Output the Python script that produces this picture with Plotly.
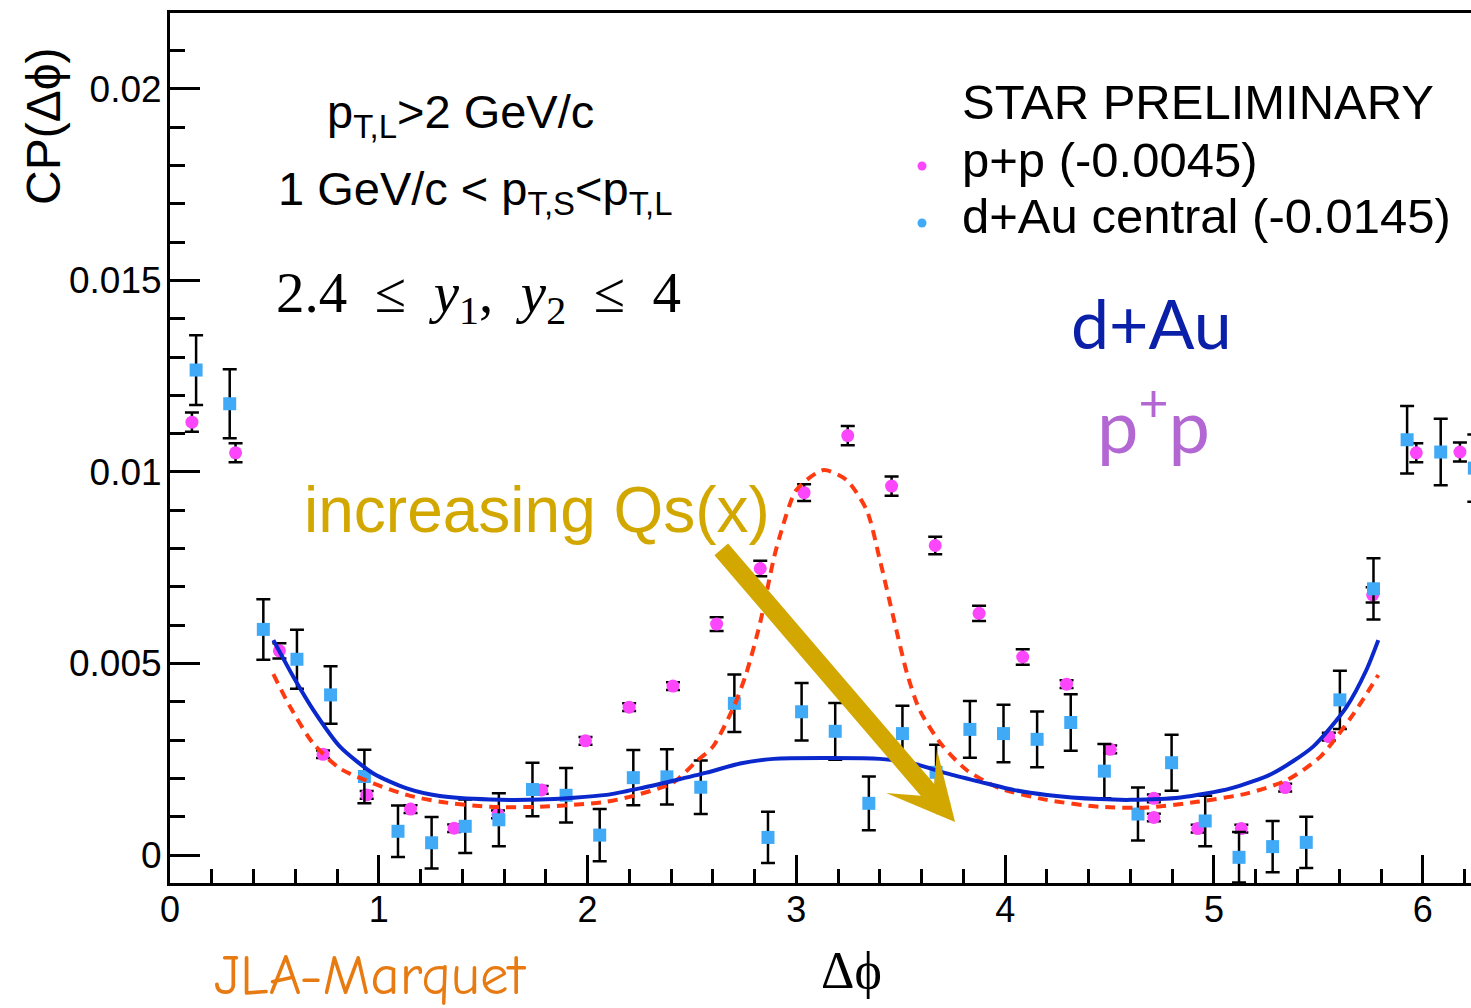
import plotly.graph_objects as go

# ---------------- data ----------------
dau_x = [0.125, 0.286, 0.447, 0.608, 0.769, 0.931, 1.092, 1.253, 1.414, 1.575,
         1.736, 1.897, 2.058, 2.219, 2.380, 2.542, 2.703, 2.864, 3.025, 3.186,
         3.347, 3.508, 3.669, 3.831, 3.992, 4.153, 4.314, 4.475, 4.636, 4.797,
         4.958, 5.120, 5.281, 5.442, 5.603, 5.764, 5.925, 6.086, 6.247]
dau_y = [0.01266, 0.01178, 0.00589, 0.00511, 0.00418, 0.00205, 0.00062, 0.00032, 0.00075, 0.00092,
         0.00171, 0.00156, 0.00052, 0.00202, 0.00204, 0.00177, 0.00396, 0.00046, 0.00374, 0.00323,
         0.00135, 0.00317, 0.00216, 0.00328, 0.00317, 0.00302, 0.00346, 0.00219, 0.00107, 0.00241,
         0.00089, -0.00006, 0.00022, 0.00033, 0.00405, 0.00695, 0.01084, 0.01052, 0.01010]
dau_err = [0.00091, 0.00090, 0.00079, 0.00077, 0.00075, 0.00070, 0.00067, 0.00067, 0.00070, 0.00069,
           0.00070, 0.00071, 0.00068, 0.00072, 0.00072, 0.00070, 0.00075, 0.00067, 0.00075, 0.00074,
           0.00070, 0.00073, 0.00072, 0.00074, 0.00075, 0.00073, 0.00074, 0.00071, 0.00069, 0.00073,
           0.00066, 0.00066, 0.00067, 0.00067, 0.00076, 0.00080, 0.00088, 0.00087, 0.00088]

pp_x = [0.105, 0.314, 0.524, 0.733, 0.942, 1.152, 1.361, 1.571, 1.780, 1.990,
        2.199, 2.409, 2.618, 2.827, 3.037, 3.246, 3.456, 3.665, 3.875, 4.084,
        4.294, 4.503, 4.712, 4.712, 4.922, 5.131, 5.341, 5.550, 5.760, 5.969, 6.178]
pp_y = [0.01130, 0.01050, 0.00533, 0.00263, 0.00157, 0.00120, 0.00070, 0.00106, 0.00170, 0.00298,
        0.00386, 0.00441, 0.00603, 0.00748, 0.00946, 0.01095, 0.00963, 0.00808, 0.00631, 0.00517,
        0.00446, 0.00276, 0.00148, 0.00098, 0.00069, 0.00069, 0.00176, 0.00309, 0.00679, 0.01050, 0.01052]
pp_err = [0.00025, 0.00025, 0.00020, 0.00010, 0.00010, 0.00010, 0.00010, 0.00010, 0.00010, 0.00010,
          0.00010, 0.00010, 0.00018, 0.00020, 0.00022, 0.00025, 0.00025, 0.00023, 0.00020, 0.00020,
          0.00010, 0.00010, 0.00010, 0.00010, 0.00010, 0.00010, 0.00010, 0.00010, 0.00020, 0.00025, 0.00025]

# theory curves (JLA-Marquet)
dau_curve_x = [0.495, 0.59, 0.686, 0.814, 0.974, 1.134, 1.293, 1.533, 1.772, 2.09, 2.25, 2.41,
               2.57, 2.73, 2.89, 3.14, 3.40, 3.56, 3.72, 3.88, 4.04, 4.20, 4.45, 4.60, 4.84,
               5.08, 5.28, 5.475, 5.635, 5.73, 5.787]
dau_curve_y = [0.00561, 0.00466, 0.00379, 0.00283, 0.00213, 0.00174, 0.00154, 0.00145, 0.00145,
               0.00157, 0.00174, 0.00194, 0.00215, 0.00239, 0.00251, 0.00253, 0.00251, 0.00239,
               0.00213, 0.00191, 0.00170, 0.00157, 0.00146, 0.00144, 0.00150, 0.00174, 0.00213,
               0.00283, 0.00387, 0.00483, 0.00561]
pp_curve_x = [0.495, 0.575, 0.686, 0.814, 0.974, 1.134, 1.293, 1.533, 1.772, 2.09, 2.25, 2.41,
              2.52, 2.60, 2.70, 2.76, 2.826, 2.89, 2.92, 3.0, 3.13, 3.24, 3.337, 3.40, 3.464,
              3.53, 3.59, 3.69, 3.815, 3.975, 4.20, 4.45, 4.68, 4.92, 5.16, 5.35, 5.51, 5.67, 5.787]
pp_curve_y = [0.00472, 0.00387, 0.00291, 0.00226, 0.00187, 0.00157, 0.00139, 0.00126, 0.00126,
              0.00139, 0.00159, 0.00189, 0.00244, 0.00283, 0.00387, 0.00474, 0.00605, 0.00770,
              0.00831, 0.00953, 0.01005, 0.00979, 0.00900, 0.00770, 0.00622, 0.00474, 0.00379,
              0.00292, 0.00222, 0.00174, 0.00144, 0.00126, 0.00124, 0.00139, 0.00161, 0.00196,
              0.00257, 0.00370, 0.00470]

x_ticks = [0, 1, 2, 3, 4, 5, 6]
y_ticks = [0, 0.005, 0.01, 0.015, 0.02]
y_tick_text = ["0", "0.005", "0.01", "0.015", "0.02"]

# ---------------- style ----------------
C_PP = "#fb46fb"
C_DAU = "#40aaf7"
C_DAU_LINE = "#0a28cc"
C_PP_LINE = "#ff3a10"
FONT = "Liberation Sans, Arial, Helvetica, sans-serif"
SERIF = "Liberation Serif, Times New Roman, serif"
W, H = 1471, 1008
L, R, T, B = 170, 0, 13, 125


def px2paper(px, py):
    return (px - L) / (W - L - R), (H - B - py) / (H - T - B)


fig = go.Figure()

fig.add_trace(go.Scatter(
    x=pp_x, y=pp_y, mode="markers",
    marker=dict(symbol="circle", size=13, color=C_PP, line=dict(width=0)),
    error_y=dict(type="data", array=pp_err, color="black", thickness=2.5, width=7),
    showlegend=False))

fig.add_trace(go.Scatter(
    x=dau_x, y=dau_y, mode="markers",
    marker=dict(symbol="square", size=13, color=C_DAU, line=dict(width=0)),
    error_y=dict(type="data", array=dau_err, color="black", thickness=2.5, width=7),
    showlegend=False))

fig.add_trace(go.Scatter(
    x=pp_curve_x, y=pp_curve_y, mode="lines",
    line=dict(color=C_PP_LINE, width=4, dash="10px,7px", shape="spline", smoothing=0.7),
    showlegend=False))

fig.add_trace(go.Scatter(
    x=dau_curve_x, y=dau_curve_y, mode="lines",
    line=dict(color=C_DAU_LINE, width=4, shape="spline", smoothing=0.7),
    showlegend=False))

annotations = []


def add_text(text, px, py, size, color="black", family=FONT, xanchor="left", yanchor="middle", angle=0):
    xp, yp = px2paper(px, py)
    annotations.append(dict(text=text, x=xp, y=yp, xref="paper", yref="paper",
                            xanchor=xanchor, yanchor=yanchor, showarrow=False,
                            textangle=angle,
                            font=dict(size=size, color=color, family=family)))


add_text("p<sub>T,L</sub>&gt;2 GeV/c", 325, 115, 47)
add_text("1 GeV/c &lt; p<sub>T,S</sub>&lt;p<sub>T,L</sub>", 276, 192, 47)
add_text("2.4&#8201;&#8201;&#8202;≤&#8201;&#8201;&#8202;<i>y</i><sub>1</sub>,&#8201;&#8201;&#8202;"
         "<i>y</i><sub>2</sub>&#8201;&#8201;&#8202;≤&#8201;&#8201;&#8202;4",
         274, 297, 57, family=SERIF)

add_text("STAR PRELIMINARY", 960, 102, 49)
add_text("p+p (-0.0045)", 960, 160, 49)
add_text("d+Au central (-0.0145)", 960, 216, 49)

add_text("d+Au", 1151, 322, 68, color="#0b20a8", family="Lato, Noto Sans, sans-serif", xanchor="center")
add_text("p<sup>+</sup>p", 1153, 420, 74, color="#b267d2", family="Lato, Noto Sans, sans-serif", xanchor="center")

add_text("increasing Qs(x)", 302, 510, 64, color="#d2a800")
add_text("JLA-Marquet", 212, 1010, 57, color="#e87a12",
         family="Comic Sans MS, Comic Neue, DejaVu Sans, sans-serif", yanchor="bottom")

add_text("CP(Δϕ)", 44, 126, 48, xanchor="center", angle=-90)
add_text("Δϕ", 851, 970, 52, family=SERIF, xanchor="center")

# arrow
annotations.append(dict(
    x=3.760, y=0.00086, ax=2.634, ay=0.00802, xref="x", yref="y", axref="x", ayref="y",
    text="", showarrow=True, arrowhead=3, arrowwidth=18, arrowsize=0.62, arrowcolor="#d2a800",
    standoff=0))

shapes = []
for py, col in [(166, C_PP), (223, C_DAU)]:
    xp, yp = px2paper(922, py)
    shapes.append(dict(type="circle", xref="paper", yref="paper", xsizemode="pixel", ysizemode="pixel",
                       xanchor=xp, yanchor=yp, x0=-4.5, x1=4.5, y0=-4.5, y1=4.5,
                       fillcolor=col, line=dict(width=0)))

fig.update_layout(
    width=W, height=H,
    margin=dict(l=L, r=R, t=T, b=B, pad=0),
    plot_bgcolor="white", paper_bgcolor="white",
    showlegend=False,
    annotations=annotations,
    shapes=shapes,
    xaxis=dict(range=[0, 6.231], showline=True, linewidth=3, linecolor="black", mirror=True,
               ticks="inside", ticklen=28, tickwidth=3, tickcolor="black",
               tickvals=x_ticks, ticktext=[str(v) for v in x_ticks],
               tickfont=dict(size=36, family=FONT, color="black"),
               minor=dict(ticks="inside", ticklen=14, tickwidth=3, dtick=0.2, tick0=0,
                          tickcolor="black", showgrid=False),
               showgrid=False, zeroline=False, ticklabelstandoff=-7),
    yaxis=dict(range=[-0.00073, 0.02198], showline=True, linewidth=3, linecolor="black", mirror=False,
               ticks="inside", ticklen=30, tickwidth=3, tickcolor="black",
               tickvals=y_ticks, ticktext=y_tick_text,
               tickfont=dict(size=37, family=FONT, color="black"),
               minor=dict(ticks="inside", ticklen=15, tickwidth=3, dtick=0.001, tick0=0,
                          tickcolor="black", showgrid=False),
               showgrid=False, zeroline=False, ticklabelstandoff=-2),
)

fig.write_html("out.html")
